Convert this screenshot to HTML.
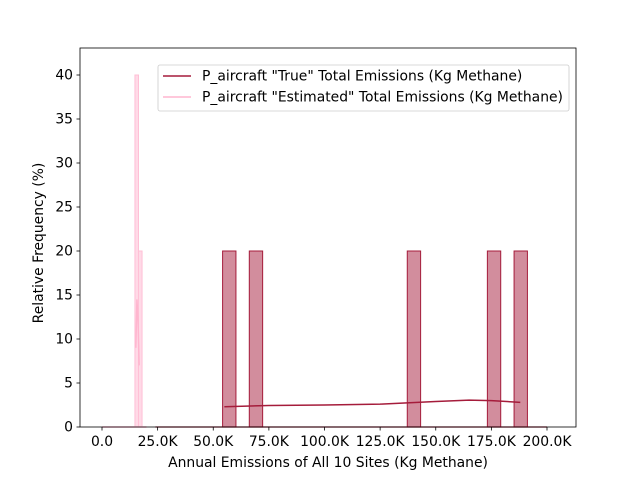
<!DOCTYPE html>
<html><head><meta charset="utf-8"><style>
body{margin:0;background:#fff;}
svg text{font-family:"DejaVu Sans","Liberation Sans",sans-serif;font-size:13.9px;fill:#000;}
</style></head><body>
<svg id="chart" width="640" height="480" viewBox="0 0 640 480">
<rect x="0" y="0" width="640" height="480" fill="#fff"/>
<g id="marks"></g>
<rect x="80" y="48" width="496" height="379" fill="none" stroke="#000" stroke-width="0.8"/>
<g id="axes"></g>
<text x="328" y="467" text-anchor="middle">Annual Emissions of All 10 Sites (Kg Methane)</text>
<text transform="translate(43,243) rotate(-90)" text-anchor="middle">Relative Frequency (%)</text>
<g>
<rect x="158" y="65" width="411" height="46" rx="2" fill="#fff" fill-opacity="0.8" stroke="#ccc" stroke-width="0.8"/>
<g>
<line x1="163" y1="76" x2="191" y2="76" stroke="#a51c3b" stroke-width="1.5"/>
<text x="202" y="80.5">P_aircraft "True" Total Emissions (Kg Methane)</text></g>
<g>
<line x1="163" y1="97" x2="191" y2="97" stroke="#ffb6cf" stroke-width="1.5"/>
<text x="202" y="101.5">P_aircraft "Estimated" Total Emissions (Kg Methane)</text></g>
</g>
</svg>
<script>
const xTicks=[0,25,50,75,100,125,150,175,200];
const xTickLabels=["0.0","25.0K","50.0K","75.0K","100.0K","125.0K","150.0K","175.0K","200.0K"];
const yTicks=[0,5,10,15,20,25,30,35,40];
const trueBinStarts=[54.2,66.2,137.2,173.2,185.2];
const trueBinWidth=6;
const trueFreq=[20,20,20,20,20];
const estBinStarts=[14.8,16.4];
const estBinWidth=1.6;
const estFreq=[40,20];
const trueKdeX=[55,75,100,125,150,165,175,188];
const trueKdeY=[2.3,2.45,2.5,2.6,2.9,3.05,3.0,2.8];
const estKdeX=[15.2,15.7,16.2,16.7];
const estKdeY=[9,14.5,12,7];
const NS='http://www.w3.org/2000/svg';
const sx=v=>102+v*2.225;
const sy=v=>427-v*8.8;
const marks=document.getElementById('marks');
const axes=document.getElementById('axes');
function mk(tag,attrs,parent){const e=document.createElementNS(NS,tag);for(const k in attrs)e.setAttribute(k,attrs[k]);parent.appendChild(e);return e;}
let b1=mk('line',{x1:sx(0),x2:sx(20),y1:sy(0),y2:sy(0),stroke:'#ffb6cf','stroke-width':1.5},marks);


let b2=mk('line',{x1:sx(24),x2:sx(200),y1:sy(0),y2:sy(0),stroke:'#a51c3b','stroke-opacity':0.6,'stroke-width':1.5},marks);


trueBinStarts.forEach((s,i)=>{
 const r=mk('rect',{x:sx(s),y:sy(trueFreq[i]),width:sx(s+trueBinWidth)-sx(s),height:sy(0)-sy(trueFreq[i]),fill:'#a51c3b','fill-opacity':0.5,stroke:'#a51c3b','stroke-width':1},marks);
 
 
});
estBinStarts.forEach((s,i)=>{
 const r=mk('rect',{x:sx(s),y:sy(estFreq[i]),width:sx(s+estBinWidth)-sx(s),height:sy(0)-sy(estFreq[i]),fill:'#ffb6cf','fill-opacity':0.5,stroke:'#ffc0d6','stroke-width':1},marks);
 
 
});
let p1=mk('path',{d:trueKdeX.map((x,i)=>(i?'L':'M')+sx(x)+','+sy(trueKdeY[i])).join(''),fill:'none',stroke:'#a51c3b','stroke-width':1.5},marks);


let p2=mk('path',{d:estKdeX.map((x,i)=>(i?'L':'M')+sx(x)+','+sy(estKdeY[i])).join(''),fill:'none',stroke:'#ffb6cf','stroke-width':1.5},marks);


xTicks.forEach((t,i)=>{
 mk('line',{x1:sx(t),x2:sx(t),y1:427,y2:430.5,stroke:'#000','stroke-width':0.8},axes);
 const tx=mk('text',{x:sx(t),y:446,'text-anchor':'middle'},axes);tx.textContent=xTickLabels[i];
 
 
});
yTicks.forEach(t=>{
 mk('line',{x1:76.5,x2:80,y1:sy(t),y2:sy(t),stroke:'#000','stroke-width':0.8},axes);
 const tx=mk('text',{x:73,y:sy(t)+4.5,'text-anchor':'end'},axes);tx.textContent=String(t);
 
 
});
</script>
</body></html>
